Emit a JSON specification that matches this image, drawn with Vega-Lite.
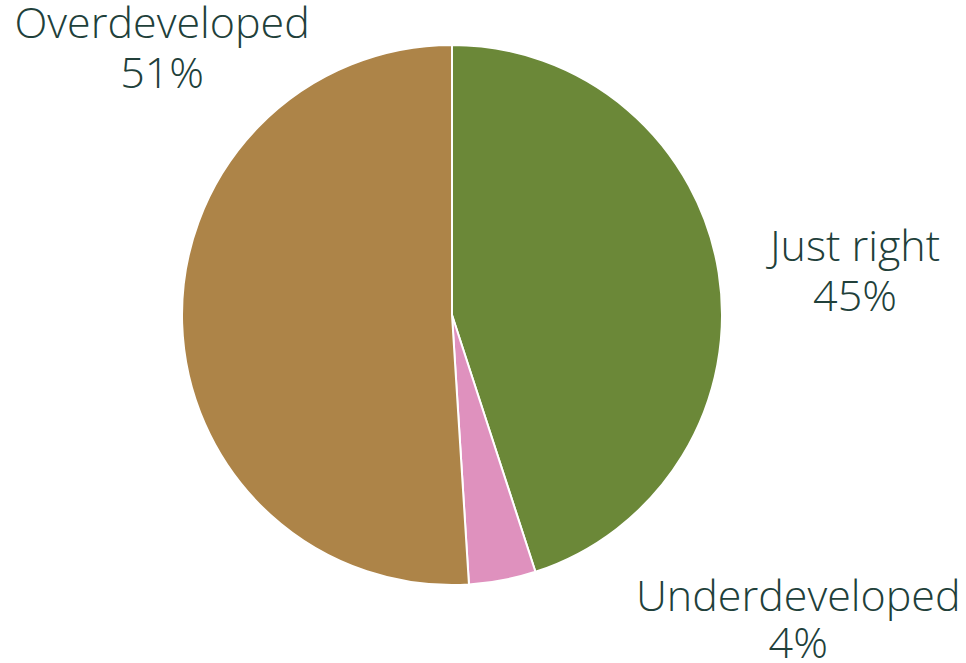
{
  "$schema": "https://vega.github.io/schema/vega-lite/v6.json",
  "width": 904,
  "height": 630,
  "padding": {"left": 0, "top": 0, "right": 62, "bottom": 33},
  "autosize": "none",
  "background": "white",
  "view": {"stroke": null},
  "config": {"text": {"font": "Open Sans", "fontWeight": 300, "fontSize": 43, "baseline": "middle", "align": "center"}},
  "data": {"values": [
    {"category": "Just right", "share": 0.45},
    {"category": "Underdeveloped", "share": 0.04},
    {"category": "Overdeveloped", "share": 0.51}
  ]},
  "encoding": {
    "theta": {"field": "share", "type": "quantitative", "stack": true, "scale": {"range": [2.827433, 9.110619]}},
    "order": {"field": "category", "sort": "descending"}
  },
  "layer": [
    {"mark": {"type": "arc", "outerRadius": 270, "stroke": "white", "strokeWidth": 2},
     "encoding": {"color": {"field": "category", "type": "nominal",
      "scale": {"domain": ["Just right", "Underdeveloped", "Overdeveloped"], "range": ["#6b8838", "#df91be", "#ad8448"]}, "legend": null}}},
    {"mark": {"type": "text", "radius": 408, "dy": -3, "color": "#21403a"},
     "encoding": {"text": {"condition": {"test": "datum.category === 'Just right'", "field": "category"}, "value": ""}}},
    {"mark": {"type": "text", "radius": 408, "dy": 47, "color": "#21403a"},
     "encoding": {"text": {"condition": {"test": "datum.category === 'Just right'", "field": "share", "type": "quantitative", "format": ".0%"}, "value": ""}}},
    {"mark": {"type": "text", "radius": 300, "dx": 290, "dy": -12, "color": "#21403a"},
     "encoding": {"text": {"condition": {"test": "datum.category === 'Underdeveloped'", "field": "category"}, "value": ""}}},
    {"mark": {"type": "text", "radius": 300, "dx": 290, "dy": 35, "color": "#21403a"},
     "encoding": {"text": {"condition": {"test": "datum.category === 'Underdeveloped'", "field": "share", "type": "quantitative", "format": ".0%"}, "value": ""}}},
    {"mark": {"type": "text", "radius": 290, "dy": -299, "color": "#21403a"},
     "encoding": {"text": {"condition": {"test": "datum.category === 'Overdeveloped'", "field": "category"}, "value": ""}}},
    {"mark": {"type": "text", "radius": 290, "dy": -249, "color": "#21403a"},
     "encoding": {"text": {"condition": {"test": "datum.category === 'Overdeveloped'", "field": "share", "type": "quantitative", "format": ".0%"}, "value": ""}}}
  ]
}
